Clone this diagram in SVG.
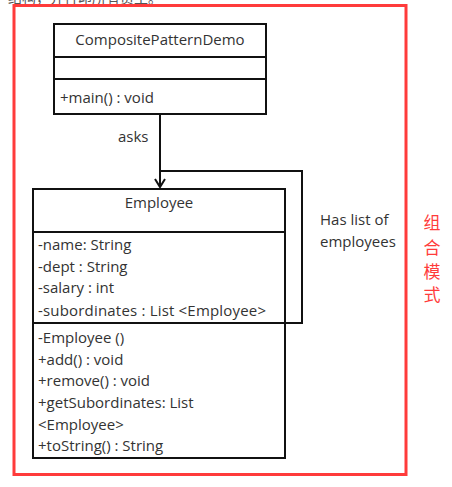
<svg xmlns="http://www.w3.org/2000/svg" width="452" height="487" viewBox="0 0 452 487">
<defs>
<style>
.box{fill:#fff;stroke:#111;stroke-width:2}
.ln{fill:none;stroke:#111;stroke-width:2}
.t{font-family:"Open Sans","Liberation Sans",sans-serif;font-size:15px;fill:#333}
.c{text-anchor:middle}
.red{font-family:"Noto Sans CJK SC",sans-serif;font-size:17px;fill:#ff3b3b;text-anchor:middle}
</style>
<marker id="arr" markerWidth="12" markerHeight="12" refX="10" refY="6" orient="auto" markerUnits="userSpaceOnUse">
<path d="M2,1 L10,6 L2,11" fill="none" stroke="#111" stroke-width="2"/>
</marker>
</defs>
<rect width="452" height="487" fill="#fff"/>
<text x="8" y="3" font-family="Noto Sans CJK SC,sans-serif" font-size="14" fill="#555">结构，并打印所有员工。</text>
<rect x="14" y="5.5" width="392" height="469" fill="none" stroke="#ff3b3b" stroke-width="3"/>
<g id="connectors">
<line class="ln" x1="160" y1="114" x2="160" y2="187" marker-end="url(#arr)"/>
<polyline class="ln" points="160,171 302,171 302,323 285,323"/>
<text class="t" x="118" y="142">asks</text>
<text class="t" x="320" y="225">Has list of</text>
<text class="t" x="320" y="247">employees</text>
</g>
<g id="CompositePatternDemo">
<rect class="box" x="54" y="24" width="212" height="90"/>
<line class="ln" x1="54" y1="57" x2="266" y2="57"/>
<line class="ln" x1="54" y1="79" x2="266" y2="79"/>
<text class="t c" x="160" y="45">CompositePatternDemo</text>
<text class="t" x="60" y="103">+main() : void</text>
</g>
<g id="Employee">
<rect class="box" x="33" y="189" width="252" height="269"/>
<line class="ln" x1="33" y1="232" x2="285" y2="232"/>
<line class="ln" x1="33" y1="323" x2="285" y2="323"/>
<text class="t c" x="159" y="208">Employee</text>
<text class="t" x="38" y="250">-name: String</text>
<text class="t" x="38" y="272">-dept : String</text>
<text class="t" x="38" y="293">-salary : int</text>
<text class="t" x="38" y="316" textLength="228">-subordinates : List &lt;Employee&gt;</text>
<text class="t" x="38" y="343">-Employee  ()</text>
<text class="t" x="38" y="365">+add() : void</text>
<text class="t" x="38" y="386">+remove() : void</text>
<text class="t" x="38" y="408">+getSubordinates:  List</text>
<text class="t" x="38" y="430">&lt;Employee&gt;</text>
<text class="t" x="38" y="451">+toString() : String</text>
</g>
<g id="label-red">
<text class="red" x="432" y="229">组</text>
<text class="red" x="432" y="254">合</text>
<text class="red" x="432" y="278">模</text>
<text class="red" x="432" y="301">式</text>
</g>
</svg>
